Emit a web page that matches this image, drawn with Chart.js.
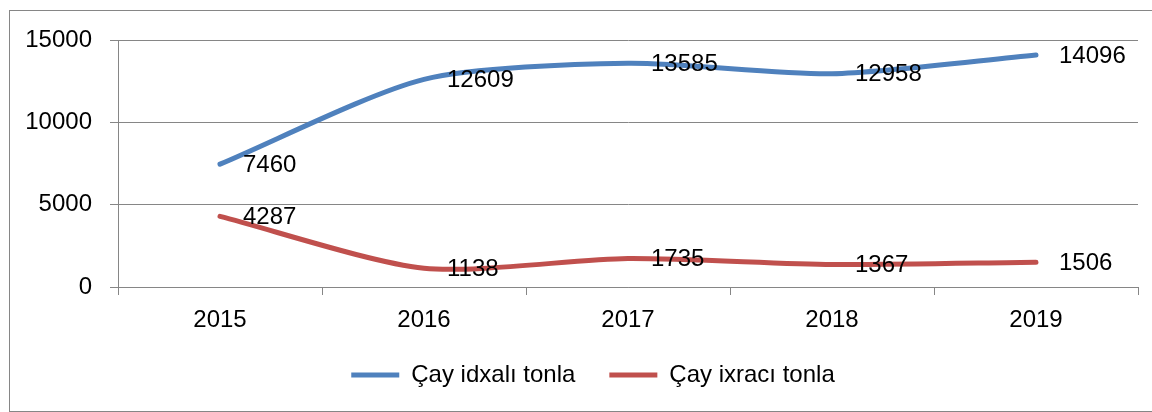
<!DOCTYPE html>
<html>
<head>
<meta charset="utf-8">
<script src="https://cdn.jsdelivr.net/npm/chart.js@4.4.1/dist/chart.umd.min.js"></script>
<style>
  html, body { margin: 0; padding: 0; background: #fff; overflow: hidden; }
  #box { position: absolute; left: 9px; top: 10px; width: 1150px; height: 400px; border: 1px solid #868686; }
  canvas { display: block; }
</style>
</head>
<body>
<div id="box"><canvas id="c" width="1150" height="400"></canvas></div>
<script>
const categories = ['2015', '2016', '2017', '2018', '2019'];
const importTons = [7460, 12609, 13585, 12958, 14096];
const exportTons = [4287, 1138, 1735, 1367, 1506];
const seriesNames = ['Çay idxalı tonla', 'Çay ixracı tonla'];
const yTicks = [0, 5000, 10000, 15000];

const FONT = "'Liberation Sans', Arial, sans-serif";
const GRID = '#868686';

const valueLabels = {
  id: 'valueLabels',
  afterLayout(chart) {
    // shift the centred legend a little to the right, as in the reference
    chart.legend.left += 38;
  },
  afterDatasetsDraw(chart) {
    const ctx = chart.ctx;
    ctx.save();
    ctx.font = '24px ' + FONT;
    ctx.fillStyle = '#000';
    ctx.textAlign = 'left';
    ctx.textBaseline = 'middle';
    chart.data.datasets.forEach((ds, i) => {
      const meta = chart.getDatasetMeta(i);
      meta.data.forEach((pt, j) => {
        ctx.fillText(String(ds.data[j]), pt.x + 23, pt.y + 1);
      });
    });
    ctx.restore();
  }
};

new Chart(document.getElementById('c'), {
  type: 'line',
  data: {
    labels: categories,
    datasets: [
      { label: seriesNames[0], data: importTons, borderColor: '#4F81BD', backgroundColor: '#4F81BD',
        borderWidth: 5, pointRadius: 0, tension: 0.25, borderCapStyle: 'round', fill: false },
      { label: seriesNames[1], data: exportTons, borderColor: '#C0504D', backgroundColor: '#C0504D',
        borderWidth: 5, pointRadius: 0, tension: 0.25, borderCapStyle: 'round', fill: false }
    ]
  },
  options: {
    responsive: false,
    animation: false,
    layout: { padding: { left: 0, right: 22, top: 20, bottom: 14 } },
    plugins: {
      tooltip: { enabled: false },
      legend: {
        position: 'bottom',
        align: 'center',
        labels: {
          usePointStyle: true,
          pointStyle: 'line',
          pointStyleWidth: 48,
          padding: 34,
          color: '#000',
          font: { family: FONT, size: 24 }
        }
      }
    },
    scales: {
      x: {
        offset: true,
        grid: { offset: true, drawOnChartArea: false, drawTicks: true, tickLength: 8, color: GRID, lineWidth: 1 },
        border: { display: true, color: GRID, width: 1 },
        ticks: { color: '#000', font: { family: FONT, size: 24 }, padding: 11, maxRotation: 0 },
        afterFit(scale) { scale.height = 42; }
      },
      y: {
        min: 0, max: 15000,
        afterBuildTicks(scale) { scale.ticks = yTicks.map(v => ({ value: v })); },
        grid: { color: GRID, lineWidth: 1, tickLength: 8, drawTicks: true },
        border: { display: true, color: GRID, width: 1 },
        ticks: { color: '#000', font: { family: FONT, size: 24, lineHeight: 0.92 }, padding: 18,
                 callback: (v) => String(v) },
        afterFit(scale) { scale.width = 108; }
      }
    }
  },
  plugins: [valueLabels]
});
</script>
</body>
</html>
